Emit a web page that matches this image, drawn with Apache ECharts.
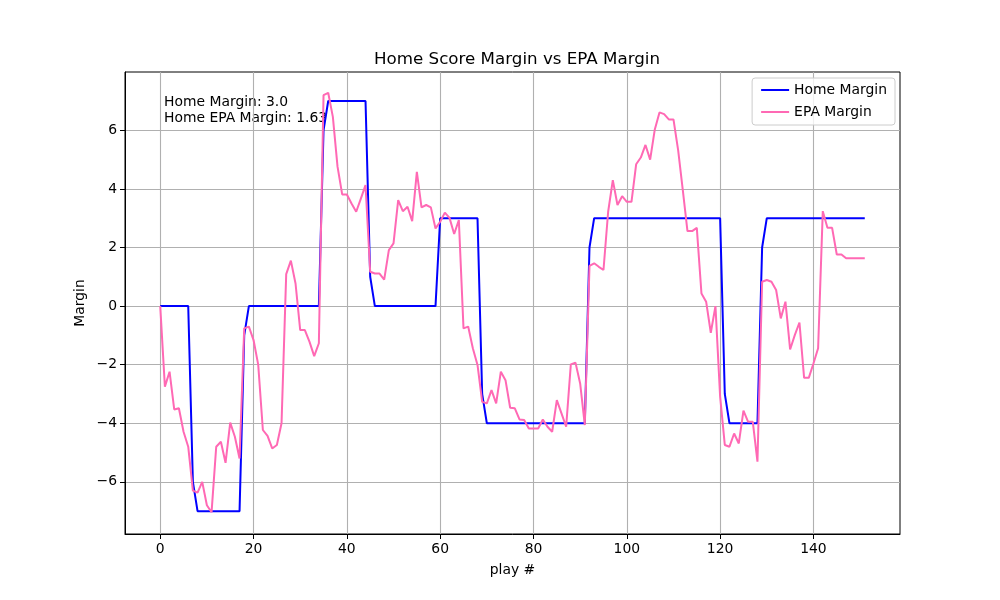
<!DOCTYPE html>
<html>
<head>
<meta charset="utf-8">
<script src="https://cdn.jsdelivr.net/npm/echarts@6/dist/echarts.min.js"></script>
<style>
  html, body { margin: 0; padding: 0; background: #fff; }
</style>
</head>
<body>
<div id="main" style="width: 1000px;height:600px;"></div>
<script type="text/javascript">
    // score margin for the home team after each play
    var homeMargin = [
        0, 0, 0, 0, 0, 0, 0, -6, -7, -7,
        -7, -7, -7, -7, -7, -7, -7, -7, -1, 0,
        0, 0, 0, 0, 0, 0, 0, 0, 0, 0,
        0, 0, 0, 0, 0, 6, 7, 7, 7, 7,
        7, 7, 7, 7, 7, 1, 0, 0, 0, 0,
        0, 0, 0, 0, 0, 0, 0, 0, 0, 0,
        3, 3, 3, 3, 3, 3, 3, 3, 3, -3,
        -4, -4, -4, -4, -4, -4, -4, -4, -4, -4,
        -4, -4, -4, -4, -4, -4, -4, -4, -4, -4,
        -4, -4, 2, 3, 3, 3, 3, 3, 3, 3,
        3, 3, 3, 3, 3, 3, 3, 3, 3, 3,
        3, 3, 3, 3, 3, 3, 3, 3, 3, 3,
        3, -3, -4, -4, -4, -4, -4, -4, -4, 2,
        3, 3, 3, 3, 3, 3, 3, 3, 3, 3,
        3, 3, 3, 3, 3, 3, 3, 3, 3, 3,
        3, 3
    ];

    // EPA margin for the home team after each play
    var epaMargin = [
        0, -2.75, -2.24, -3.53, -3.49, -4.29, -4.8, -6.3, -6.37, -6.0,
        -6.8, -7.04, -4.8, -4.63, -5.35, -3.98, -4.46, -5.2, -0.76, -0.7,
        -1.16, -2.0, -4.23, -4.43, -4.86, -4.74, -4.0, 1.09, 1.55, 0.77,
        -0.82, -0.82, -1.22, -1.71, -1.27, 7.2, 7.28, 6.46, 4.76, 3.81,
        3.81, 3.5, 3.22, 3.67, 4.13, 1.17, 1.11, 1.11, 0.9, 1.91,
        2.14, 3.62, 3.24, 3.39, 2.9, 4.58, 3.37, 3.45, 3.37, 2.65,
        2.88, 3.19, 3.01, 2.46, 2.94, -0.76, -0.7, -1.44, -2.01, -3.27,
        -3.32, -2.87, -3.32, -2.24, -2.53, -3.47, -3.49, -3.87, -3.89, -4.18,
        -4.18, -4.18, -3.87, -4.12, -4.29, -3.21, -3.66, -4.12, -1.99, -1.93,
        -2.64, -4.06, 1.37, 1.46, 1.34, 1.23, 3.22, 4.3, 3.45, 3.75,
        3.56, 3.56, 4.84, 5.07, 5.5, 5.0, 6.03, 6.61, 6.55, 6.37,
        6.37, 5.32, 3.96, 2.56, 2.56, 2.67, 0.43, 0.15, -0.91, 0.0,
        -3.09, -4.74, -4.8, -4.35, -4.69, -3.57, -3.95, -3.95, -5.31, 0.83,
        0.89, 0.83, 0.55, -0.42, 0.15, -1.48, -0.99, -0.56, -2.45, -2.45,
        -1.96, -1.44, 3.24, 2.67, 2.67, 1.76, 1.76, 1.63, 1.63, 1.63,
        1.63, 1.63
    ];

    var xTicks = [0, 20, 40, 60, 80, 100, 120, 140];
    var yTicks = [-6, -4, -2, 0, 2, 4, 6];

    var homePoints = homeMargin.map(function (v, i) { return [i, v]; });
    var epaPoints = epaMargin.map(function (v, i) { return [i, v]; });

    var fontFamily = 'DejaVu Sans';
    var minusFmt = function (v) { return String(v).replace('-', '\u2212'); };

    var myChart = echarts.init(document.getElementById('main'));

    var option = {
        animation: false,
        textStyle: { fontFamily: fontFamily },
        title: {
            text: 'Home Score Margin vs EPA Margin',
            left: 512,
            top: 46,
            textAlign: 'center',
            textStyle: { fontFamily: fontFamily, fontSize: 16.7, fontWeight: 'normal', color: '#000' }
        },
        grid: {
            left: 125, right: 100, top: 72, bottom: 66,
            show: true, borderColor: '#000', borderWidth: 1, backgroundColor: 'transparent'
        },
        legend: {
            data: ['Home Margin', 'EPA Margin'],
            orient: 'vertical',
            right: 105,
            top: 78,
            padding: [4, 8, 5, 9],
            itemGap: 6,
            icon: 'rect',
            itemWidth: 28,
            itemHeight: 2,
            backgroundColor: 'rgba(255,255,255,0.8)',
            borderColor: '#cccccc',
            borderWidth: 1,
            borderRadius: 3,
            textStyle: { fontFamily: fontFamily, fontSize: 13.9, color: '#000', lineHeight: 16 }
        },
        xAxis: {
            type: 'value',
            min: -7.55,
            max: 158.55,
            name: 'play #',
            nameLocation: 'middle',
            nameGap: 29,
            nameTextStyle: { fontFamily: fontFamily, fontSize: 13.9, color: '#000' },
            axisLine: { show: true, onZero: false, lineStyle: { color: '#000', width: 1 } },
            axisTick: { show: true, length: 5, customValues: xTicks, lineStyle: { color: '#000' } },
            axisLabel: { customValues: xTicks, margin: 8, fontSize: 13.9, color: '#000', fontFamily: fontFamily },
            splitLine: { show: true, lineStyle: { color: '#b0b0b0', width: 1.1 } }
        },
        yAxis: {
            type: 'value',
            min: -7.78,
            max: 7.99,
            name: 'Margin',
            nameLocation: 'middle',
            nameGap: 38,
            nameMoveOverlap: false,
            nameTextStyle: { fontFamily: fontFamily, fontSize: 13.9, color: '#000' },
            axisLine: { show: true, onZero: false, lineStyle: { color: '#000', width: 1 } },
            axisTick: { show: true, length: 5, customValues: yTicks, lineStyle: { color: '#000' } },
            axisLabel: { customValues: yTicks, margin: 8, fontSize: 13.9, color: '#000', fontFamily: fontFamily, formatter: minusFmt },
            splitLine: { show: true, lineStyle: { color: '#b0b0b0', width: 1.1 } }
        },
        graphic: [{
            type: 'text',
            left: 164,
            top: 94,
            style: {
                text: 'Home Margin: 3.0\nHome EPA Margin: 1.63',
                fontFamily: fontFamily,
                fontSize: 13.9,
                lineHeight: 16,
                fill: '#000'
            }
        }],
        series: [{
            name: 'Home Margin',
            type: 'line',
            data: homePoints,
            symbol: 'none',
            color: '#0000ff',
            lineStyle: { color: '#0000ff', width: 2 }
        }, {
            name: 'EPA Margin',
            type: 'line',
            data: epaPoints,
            symbol: 'none',
            color: '#ff69b4',
            lineStyle: { color: '#ff69b4', width: 2 }
        }]
    };

    myChart.setOption(option);
</script>
</body>
</html>
